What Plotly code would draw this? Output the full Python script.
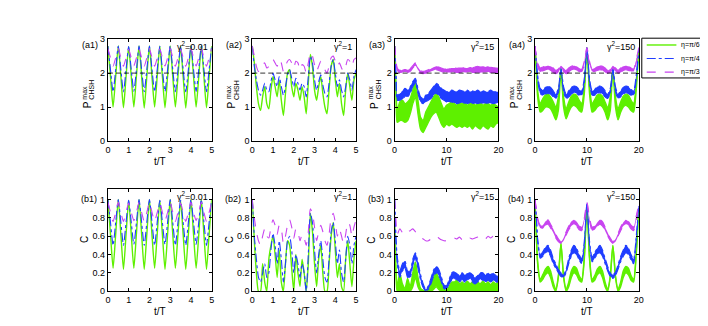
import plotly.graph_objects as go
from plotly.subplots import make_subplots

W, H = 708, 326
FONT = 'Liberation Sans, Arial, sans-serif'

GREEN = '#5ef000'
BLUE = '#1f3dff'
PURPLE = '#c844f0'

ETA_NAMES = ['η=π/6', 'η=π/4', 'η=π/3']
PANEL_TAGS = [['(a1)', '(a2)', '(a3)', '(a4)'], ['(b1)', '(b2)', '(b3)', '(b4)']]
GAMMA_TAGS = ['γ<sup>2</sup>=0.01', 'γ<sup>2</sup>=1', 'γ<sup>2</sup>=15', 'γ<sup>2</sup>=150']
CLASSICAL_BOUND = 2
TOP_Y_TICKS = [0, 1, 2, 3]
BOT_Y_TICKS = [0, 0.2, 0.4, 0.6, 0.8, 1]
BOT_Y_TEXT = ['0', '0.2', '0.4', '0.6', '0.8', '1']
X_TICKS_5 = [0, 1, 2, 3, 4, 5]
X_TICKS_20 = [0, 10, 20]

# sample times (t/T)
T5_FINE = [0, 0.125, 0.25, 0.375, 0.5, 0.625, 0.75, 0.875, 1, 1.125, 1.25, 1.375, 1.5, 1.625,
           1.75, 1.875, 2, 2.125, 2.25, 2.375, 2.5, 2.625, 2.75, 2.875, 3, 3.125, 3.25, 3.375,
           3.5, 3.625, 3.75, 3.875, 4, 4.125, 4.25, 4.375, 4.5, 4.625, 4.75, 4.875, 5]
T5 = [0, 0.1, 0.2, 0.3, 0.4, 0.5, 0.6, 0.7, 0.8, 0.9, 1.0, 1.1, 1.2, 1.3, 1.4, 1.5, 1.6, 1.7,
      1.8, 1.9, 2.0, 2.1, 2.2, 2.3, 2.4, 2.5, 2.6, 2.7, 2.8, 2.9, 3.0, 3.1, 3.2, 3.3, 3.4, 3.5,
      3.6, 3.7, 3.8, 3.9, 4.0, 4.1, 4.2, 4.3, 4.4, 4.5, 4.6, 4.7, 4.8, 4.9, 5.0]
T20 = [0, 0.25, 0.5, 1, 1.5, 2, 2.5, 3, 3.5, 4, 4.5, 5, 5.5, 6, 6.5, 7, 7.5, 8, 8.5, 9, 9.5,
       10, 10.5, 11, 11.5, 12, 12.5, 13, 13.5, 14, 14.5, 15, 15.5, 16, 16.5, 17, 17.5, 18,
       18.5, 19, 19.5, 20]

# ---- (a1) / (b1): gamma^2 = 0.01
A1_GREEN = [2.8, 1.9, 1.0, 1.9, 2.8, 1.9, 0.98, 1.9, 2.78, 1.9, 1.0, 1.92, 2.8, 1.9, 0.97, 1.9,
            2.8, 1.88, 1.0, 1.9, 2.79, 1.9, 0.98, 1.9, 2.8, 1.9, 1.0, 1.9, 2.78, 1.9, 0.97, 1.9,
            2.8, 1.9, 1.0, 1.88, 2.8, 1.9, 0.98, 1.9, 2.8]
A1_BLUE = [2.8, 2.1, 1.45, 2.1, 2.8, 2.1, 1.45, 2.1, 2.78, 2.1, 1.47, 2.1, 2.8, 2.1, 1.45, 2.1,
           2.8, 2.1, 1.45, 2.1, 2.79, 2.1, 1.46, 2.1, 2.8, 2.1, 1.45, 2.1, 2.78, 2.1, 1.45, 2.1,
           2.8, 2.1, 1.46, 2.1, 2.8, 2.1, 1.45, 2.1, 2.8]
A1_PURPLE = [2.72, 2.45, 2.2, 2.45, 2.72, 2.45, 2.2, 2.45, 2.7, 2.45, 2.22, 2.45, 2.72, 2.45,
             2.2, 2.45, 2.72, 2.45, 2.2, 2.45, 2.71, 2.45, 2.21, 2.45, 2.72, 2.45, 2.2, 2.45,
             2.7, 2.45, 2.2, 2.45, 2.72, 2.45, 2.21, 2.45, 2.72, 2.45, 2.2, 2.45, 2.72]
B1_GREEN = [1.0, 0.62, 0.25, 0.62, 1.0, 0.62, 0.24, 0.62, 0.99, 0.62, 0.25, 0.63, 1.0, 0.62,
            0.24, 0.62, 1.0, 0.61, 0.25, 0.62, 0.99, 0.62, 0.24, 0.62, 1.0, 0.62, 0.25, 0.62,
            0.99, 0.62, 0.24, 0.62, 1.0, 0.62, 0.25, 0.61, 1.0, 0.62, 0.24, 0.62, 1.0]
B1_BLUE = [1.0, 0.75, 0.5, 0.75, 1.0, 0.75, 0.5, 0.75, 0.99, 0.75, 0.51, 0.75, 1.0, 0.75, 0.5,
           0.75, 1.0, 0.75, 0.5, 0.75, 0.99, 0.75, 0.51, 0.75, 1.0, 0.75, 0.5, 0.75, 0.99,
           0.75, 0.5, 0.75, 1.0, 0.75, 0.51, 0.75, 1.0, 0.75, 0.5, 0.75, 1.0]
B1_PURPLE = [0.97, 0.86, 0.76, 0.86, 0.97, 0.86, 0.76, 0.86, 0.96, 0.86, 0.77, 0.86, 0.97,
             0.86, 0.76, 0.86, 0.97, 0.86, 0.76, 0.86, 0.96, 0.86, 0.77, 0.86, 0.97, 0.86,
             0.76, 0.86, 0.96, 0.86, 0.76, 0.86, 0.97, 0.86, 0.77, 0.86, 0.97, 0.86, 0.76,
             0.86, 0.97]

# ---- (a2) / (b2): gamma^2 = 1
A2_GREEN = [2.8, 2.3, 1.6, 1.1, 0.9, 1.3, 1.6, 1.1, 0.95, 1.5, 1.9, 1.6, 1.3, 1.8, 1.2, 0.75,
            1.4, 2.0, 2.1, 1.6, 1.3, 1.7, 1.5, 1.2, 1.6, 1.3, 0.8, 1.7, 2.55, 2.2, 1.5, 1.2,
            1.6, 1.9, 1.4, 1.0, 0.8, 1.5, 2.2, 2.4, 1.8, 1.3, 1.7, 1.1, 0.75, 1.5, 2.0, 1.6,
            1.2, 1.8, 2.0]
A2_BLUE = [2.8, 2.2, 1.8, 1.5, 1.35, 1.5, 1.7, 1.5, 1.45, 1.75, 2.0, 1.8, 1.6, 1.9, 1.6, 1.35,
           1.6, 1.95, 2.1, 1.85, 1.6, 1.85, 1.7, 1.5, 1.7, 1.6, 1.3, 1.9, 2.5, 2.3, 1.8, 1.5,
           1.75, 1.95, 1.65, 1.4, 1.3, 1.7, 2.2, 2.4, 2.0, 1.6, 1.8, 1.5, 1.3, 1.6, 2.0, 1.8,
           1.5, 1.9, 2.1]
A2_PURPLE = [2.8, 2.5, 2.2, 2.05, 2.1, 2.25, 2.3, 2.15, 2.2, 2.35, 2.4, 2.3, 2.2, 2.4, 2.3,
             2.05, 2.2, 2.35, 2.4, 2.3, 2.15, 2.35, 2.3, 2.1, 2.25, 2.2, 2.0, 2.3, 2.6, 2.5,
             2.25, 2.05, 2.2, 2.35, 2.25, 2.1, 2.0, 2.2, 2.45, 2.5, 2.35, 2.2, 2.3, 2.15, 2.05,
             2.2, 2.4, 2.35, 2.2, 2.4, 2.45]
B2_GREEN = [1.0, 0.55, 0.2, 0.0, 0.0, 0.3, 0.1, 0.0, 0.35, 0.5, 0.6, 0.4, 0.15, 0.45, 0.1, 0.0,
            0.3, 0.55, 0.5, 0.25, 0.0, 0.4, 0.2, 0.05, 0.35, 0.2, 0.0, 0.3, 0.85, 0.65, 0.3,
            0.05, 0.35, 0.5, 0.2, 0.0, 0.0, 0.3, 0.6, 0.75, 0.45, 0.15, 0.3, 0.05, 0.0, 0.35,
            0.55, 0.3, 0.05, 0.35, 0.55]
B2_BLUE = [1.0, 0.6, 0.35, 0.15, 0.1, 0.2, 0.3, 0.15, 0.2, 0.45, 0.63, 0.5, 0.3, 0.55, 0.35,
           0.1, 0.3, 0.55, 0.6, 0.45, 0.2, 0.4, 0.3, 0.15, 0.3, 0.2, 0.0, 0.4, 0.85, 0.75,
           0.45, 0.2, 0.4, 0.55, 0.35, 0.15, 0.1, 0.35, 0.65, 0.75, 0.55, 0.3, 0.45, 0.2, 0.1,
           0.35, 0.6, 0.5, 0.3, 0.5, 0.6]
B2_PURPLE = [1.0, 0.8, 0.65, 0.55, 0.5, 0.6, 0.68, 0.6, 0.58, 0.7, 0.78, 0.72, 0.62, 0.72,
             0.68, 0.52, 0.6, 0.72, 0.78, 0.7, 0.58, 0.68, 0.65, 0.55, 0.62, 0.58, 0.5, 0.65,
             0.9, 0.85, 0.7, 0.55, 0.65, 0.72, 0.65, 0.55, 0.5, 0.62, 0.8, 0.85, 0.75, 0.6,
             0.68, 0.6, 0.52, 0.62, 0.75, 0.72, 0.6, 0.7, 0.78]

# ---- (a3) / (b3): gamma^2 = 15, lower and upper edge of the fast-oscillating band
A3_GREEN_LO = [2.8, 1.4, 0.55, 0.6, 0.6, 0.55, 0.6, 0.8, 1.1, 1.3, 0.8, 0.35, 0.25, 0.4, 0.55,
               0.7, 0.8, 0.85, 0.7, 0.5, 0.4, 0.5, 0.45, 0.5, 0.45, 0.4, 0.45, 0.4, 0.45, 0.4,
               0.45, 0.35, 0.45, 0.4, 0.35, 0.45, 0.4, 0.35, 0.45, 0.4, 0.5, 0.55]
A3_GREEN_HI = [2.8, 1.6, 0.9, 1.15, 1.2, 1.1, 1.15, 1.25, 1.5, 1.75, 1.2, 0.7, 0.6, 0.85, 1.0,
               1.15, 1.3, 1.4, 1.3, 1.1, 0.95, 1.05, 1.1, 1.15, 1.1, 1.05, 1.15, 1.1, 1.15,
               1.05, 1.1, 1.15, 1.05, 1.1, 1.15, 1.05, 1.1, 1.1, 1.05, 1.1, 1.05, 1.0]
A3_BLUE_LO = [2.8, 1.9, 1.2, 1.2, 1.25, 1.3, 1.3, 1.4, 1.6, 1.7, 1.4, 1.15, 1.1, 1.15, 1.2,
              1.25, 1.35, 1.4, 1.35, 1.25, 1.2, 1.15, 1.15, 1.15, 1.12, 1.1, 1.12, 1.15, 1.1,
              1.1, 1.12, 1.1, 1.12, 1.1, 1.12, 1.1, 1.12, 1.1, 1.12, 1.1, 1.12, 1.15]
A3_BLUE_HI = [2.8, 2.0, 1.35, 1.4, 1.45, 1.55, 1.5, 1.6, 1.75, 1.85, 1.55, 1.3, 1.25, 1.35,
              1.4, 1.5, 1.6, 1.7, 1.65, 1.55, 1.5, 1.45, 1.45, 1.5, 1.48, 1.45, 1.5, 1.48,
              1.45, 1.5, 1.45, 1.48, 1.45, 1.5, 1.45, 1.48, 1.46, 1.45, 1.5, 1.45, 1.45, 1.45]
A3_PURPLE_LO = [2.8, 2.35, 2.1, 2.0, 2.02, 2.03, 2.02, 2.05, 2.15, 2.22, 2.1, 2.0, 1.98, 2.0,
                2.02, 2.05, 2.08, 2.1, 2.08, 2.05, 2.03, 2.02, 2.02, 2.02, 2.03, 2.02, 2.02,
                2.03, 2.02, 2.02, 2.03, 2.02, 2.02, 2.03, 2.02, 2.02, 2.02, 2.03, 2.02, 2.02,
                2.02, 2.03]
A3_PURPLE_HI = [2.8, 2.4, 2.15, 2.08, 2.1, 2.12, 2.1, 2.13, 2.22, 2.3, 2.17, 2.07, 2.05, 2.07,
                2.1, 2.13, 2.17, 2.2, 2.18, 2.15, 2.12, 2.12, 2.14, 2.15, 2.15, 2.14, 2.15,
                2.15, 2.16, 2.15, 2.18, 2.16, 2.18, 2.2, 2.18, 2.2, 2.18, 2.2, 2.17, 2.16, 2.15,
                2.14]
B3_GREEN_LO = [0.7, 0.2, 0, 0, 0, 0, 0, 0, 0.05, 0.15, 0.05, 0, 0, 0, 0, 0, 0.02, 0.05, 0.02,
               0, 0, 0, 0, 0, 0, 0, 0, 0, 0, 0, 0, 0, 0, 0, 0, 0, 0, 0, 0, 0, 0, 0]
B3_GREEN_HI = [0.7, 0.25, 0.05, 0.2, 0.08, 0.03, 0.14, 0.05, 0.2, 0.32, 0.15, 0.03, 0.01, 0.0,
               0.02, 0.08, 0.15, 0.2, 0.14, 0.08, 0.02, 0.01, 0.05, 0.1, 0.1, 0.12, 0.08, 0.1,
               0.08, 0.11, 0.08, 0.1, 0.07, 0.1, 0.08, 0.11, 0.08, 0.1, 0.07, 0.1, 0.08, 0.1]
B3_BLUE_LO = [1.0, 0.55, 0.3, 0.15, 0.22, 0.25, 0.15, 0.15, 0.28, 0.35, 0.25, 0.12, 0.04, 0.0,
              0.02, 0.08, 0.16, 0.2, 0.17, 0.1, 0.03, 0.02, 0.08, 0.12, 0.14, 0.12, 0.1, 0.13,
              0.1, 0.12, 0.14, 0.1, 0.08, 0.1, 0.13, 0.12, 0.1, 0.12, 0.1, 0.12, 0.1, 0.1]
B3_BLUE_HI = [1.0, 0.6, 0.38, 0.22, 0.3, 0.33, 0.22, 0.22, 0.35, 0.42, 0.32, 0.18, 0.08, 0.02,
              0.06, 0.14, 0.23, 0.27, 0.24, 0.16, 0.07, 0.06, 0.13, 0.2, 0.21, 0.19, 0.17, 0.2,
              0.18, 0.19, 0.2, 0.18, 0.15, 0.17, 0.2, 0.2, 0.17, 0.2, 0.18, 0.2, 0.17, 0.16]
B3_PURPLE = [1.0, 0.78, 0.62, 0.68, 0.64, 0.62, 0.65, 0.66, 0.68, 0.65, 0.62, 0.59, 0.57, 0.55,
             0.55, 0.57, 0.59, 0.6, 0.58, 0.56, 0.55, 0.55, 0.56, 0.57, 0.58, 0.57, 0.59, 0.56,
             0.55, 0.57, 0.58, 0.57, 0.58, 0.59, 0.6, 0.58, 0.57, 0.6, 0.58, 0.6, 0.56, 0.55]

# ---- (a4) / (b4): gamma^2 = 150
A4_GREEN_LO = [2.8, 2.0, 1.3, 0.85, 0.9, 1.0, 1.0, 0.95, 0.8, 0.62, 0.9, 2.1, 1.0, 0.65, 0.85,
               1.0, 1.05, 1.0, 0.9, 0.85, 1.4, 2.75, 1.4, 0.85, 0.9, 1.0, 1.05, 1.0, 0.85, 0.62,
               0.9, 2.1, 1.0, 0.62, 0.85, 1.0, 1.05, 1.0, 0.9, 0.85, 1.5, 2.7]
A4_GREEN_HI = [2.8, 2.2, 1.5, 1.1, 1.25, 1.35, 1.38, 1.3, 1.15, 1.0, 1.3, 2.15, 1.3, 0.95, 1.15,
               1.32, 1.38, 1.35, 1.2, 1.1, 1.6, 2.75, 1.6, 1.1, 1.22, 1.35, 1.38, 1.32, 1.15,
               0.98, 1.3, 2.15, 1.3, 0.95, 1.15, 1.32, 1.38, 1.35, 1.2, 1.1, 1.7, 2.7]
A4_BLUE_LO = [2.8, 2.3, 1.8, 1.4, 1.35, 1.38, 1.4, 1.38, 1.3, 1.25, 1.4, 2.1, 1.45, 1.25, 1.3,
              1.38, 1.42, 1.4, 1.35, 1.35, 1.7, 2.75, 1.7, 1.35, 1.35, 1.4, 1.42, 1.38, 1.3,
              1.25, 1.4, 2.1, 1.45, 1.25, 1.3, 1.38, 1.42, 1.4, 1.35, 1.35, 1.8, 2.7]
A4_BLUE_HI = [2.8, 2.4, 1.95, 1.55, 1.5, 1.58, 1.62, 1.58, 1.48, 1.38, 1.55, 2.15, 1.6, 1.38,
              1.48, 1.58, 1.62, 1.6, 1.52, 1.48, 1.85, 2.75, 1.85, 1.48, 1.52, 1.6, 1.62, 1.58,
              1.48, 1.38, 1.55, 2.15, 1.6, 1.38, 1.48, 1.58, 1.62, 1.6, 1.52, 1.48, 1.95, 2.7]
A4_PURPLE_LO = [2.8, 2.45, 2.2, 2.05, 2.05, 2.08, 2.1, 2.08, 2.02, 1.98, 2.02, 2.15, 2.05,
                1.98, 2.02, 2.08, 2.1, 2.08, 2.05, 2.05, 2.25, 2.75, 2.25, 2.05, 2.05, 2.08,
                2.1, 2.08, 2.02, 1.98, 2.02, 2.15, 2.05, 1.98, 2.02, 2.08, 2.1, 2.08, 2.05,
                2.05, 2.3, 2.75]
A4_PURPLE_HI = [2.8, 2.5, 2.3, 2.15, 2.18, 2.2, 2.22, 2.2, 2.15, 2.08, 2.12, 2.22, 2.15, 2.08,
                2.15, 2.2, 2.22, 2.2, 2.15, 2.12, 2.35, 2.75, 2.35, 2.12, 2.15, 2.2, 2.22, 2.2,
                2.15, 2.08, 2.12, 2.22, 2.15, 2.08, 2.15, 2.2, 2.22, 2.2, 2.15, 2.12, 2.4, 2.75]
B4_GREEN_LO = [0.95, 0.6, 0.3, 0.1, 0.13, 0.18, 0.2, 0.15, 0.05, 0.0, 0.15, 0.52, 0.15, 0.0,
               0.05, 0.15, 0.2, 0.18, 0.12, 0.1, 0.35, 0.92, 0.35, 0.1, 0.12, 0.18, 0.2, 0.15,
               0.05, 0.0, 0.15, 0.5, 0.15, 0.0, 0.05, 0.15, 0.2, 0.18, 0.12, 0.1, 0.4, 0.9]
B4_GREEN_HI = [0.95, 0.62, 0.33, 0.13, 0.18, 0.24, 0.27, 0.22, 0.1, 0.02, 0.17, 0.52, 0.17,
               0.02, 0.1, 0.22, 0.27, 0.25, 0.17, 0.13, 0.38, 0.92, 0.38, 0.13, 0.17, 0.24,
               0.27, 0.22, 0.1, 0.02, 0.17, 0.5, 0.17, 0.02, 0.1, 0.22, 0.27, 0.25, 0.17, 0.13,
               0.43, 0.9]
B4_BLUE_LO = [1.0, 0.8, 0.55, 0.36, 0.38, 0.42, 0.43, 0.38, 0.3, 0.25, 0.2, 0.16, 0.15, 0.2,
              0.3, 0.38, 0.42, 0.4, 0.34, 0.3, 0.5, 0.95, 0.5, 0.32, 0.36, 0.4, 0.42, 0.38,
              0.3, 0.22, 0.16, 0.14, 0.17, 0.24, 0.32, 0.38, 0.42, 0.4, 0.34, 0.3, 0.55, 0.93]
B4_BLUE_HI = [1.0, 0.82, 0.58, 0.4, 0.43, 0.48, 0.5, 0.45, 0.36, 0.3, 0.24, 0.2, 0.18, 0.24,
              0.36, 0.45, 0.5, 0.47, 0.4, 0.35, 0.55, 0.95, 0.55, 0.37, 0.42, 0.47, 0.5, 0.45,
              0.36, 0.27, 0.2, 0.18, 0.21, 0.29, 0.38, 0.45, 0.5, 0.47, 0.4, 0.35, 0.6, 0.93]
B4_PURPLE_LO = [1.0, 0.88, 0.78, 0.69, 0.68, 0.72, 0.73, 0.69, 0.64, 0.58, 0.54, 0.52, 0.55,
                0.61, 0.67, 0.71, 0.73, 0.71, 0.67, 0.66, 0.76, 0.97, 0.77, 0.66, 0.67, 0.71,
                0.73, 0.71, 0.66, 0.6, 0.55, 0.52, 0.54, 0.6, 0.66, 0.71, 0.73, 0.72, 0.68,
                0.66, 0.78, 0.95]
B4_PURPLE_HI = [1.0, 0.9, 0.8, 0.72, 0.72, 0.76, 0.78, 0.73, 0.68, 0.62, 0.57, 0.54, 0.58,
                0.65, 0.71, 0.76, 0.78, 0.75, 0.71, 0.7, 0.8, 0.97, 0.8, 0.7, 0.71, 0.75, 0.78,
                0.76, 0.7, 0.64, 0.58, 0.54, 0.57, 0.63, 0.7, 0.75, 0.78, 0.76, 0.72, 0.7, 0.82,
                0.95]

STYLES = [(GREEN, 'solid', 1.4), (BLUE, 'dashdot', 1.1), (PURPLE, 'dash', 1.1)]

# row, col, times, [green, blue, purple]; a tuple means (lower, upper) band
PANELS = [
    (1, 1, T5_FINE, [A1_GREEN, A1_BLUE, A1_PURPLE]),
    (1, 2, T5, [A2_GREEN, A2_BLUE, A2_PURPLE]),
    (1, 3, T20, [(A3_GREEN_LO, A3_GREEN_HI), (A3_BLUE_LO, A3_BLUE_HI), (A3_PURPLE_LO, A3_PURPLE_HI)]),
    (1, 4, T20, [(A4_GREEN_LO, A4_GREEN_HI), (A4_BLUE_LO, A4_BLUE_HI), (A4_PURPLE_LO, A4_PURPLE_HI)]),
    (2, 1, T5_FINE, [B1_GREEN, B1_BLUE, B1_PURPLE]),
    (2, 2, T5, [B2_GREEN, B2_BLUE, B2_PURPLE]),
    (2, 3, T20, [(B3_GREEN_LO, B3_GREEN_HI), (B3_BLUE_LO, B3_BLUE_HI), B3_PURPLE]),
    (2, 4, T20, [(B4_GREEN_LO, B4_GREEN_HI), (B4_BLUE_LO, B4_BLUE_HI), (B4_PURPLE_LO, B4_PURPLE_HI)]),
]

# frame positions in pixels
FRAME_LEFT = [98, 244, 388, 530]
FRAME_TOP = [27, 182]
FW, FH = 105, 105

fig = make_subplots(rows=2, cols=4)


def line_style(color, dash, width):
    return dict(color=color, dash=dash, width=width, shape='spline', smoothing=0.6)


for r, c, t, curves in PANELS:
    for k, curve in enumerate(curves):
        color, dash, width = STYLES[k]
        if isinstance(curve, tuple):
            lo, hi = curve
            fig.add_trace(go.Scatter(x=t, y=lo, mode='lines', line=line_style(color, dash, width),
                                     showlegend=False, hoverinfo='skip'), row=r, col=c)
            fig.add_trace(go.Scatter(x=t, y=hi, mode='lines', line=line_style(color, dash, width),
                                     fill='tonexty', fillcolor=color,
                                     showlegend=False, hoverinfo='skip'), row=r, col=c)
        else:
            fig.add_trace(go.Scatter(x=t, y=curve, mode='lines', line=line_style(color, dash, width),
                                     name=ETA_NAMES[k], showlegend=False),
                          row=r, col=c)

for c in range(1, 5):
    fig.add_hline(y=CLASSICAL_BOUND, row=1, col=c,
                  line=dict(color='black', width=0.8, dash='5px,3px'))

axis_common = dict(showline=True, linecolor='black', linewidth=1, mirror='ticks',
                   ticks='inside', ticklen=3, tickcolor='black', showgrid=False,
                   zeroline=False, tickfont=dict(family=FONT, size=9, color='black'))

annotations = []


def ann(x, y, text, size=9, xanchor='center', yanchor='middle', angle=0):
    annotations.append(dict(x=x / W, y=1 - y / H, xref='paper', yref='paper', text=text,
                            showarrow=False, xanchor=xanchor, yanchor=yanchor, textangle=angle,
                            font=dict(family=FONT, size=size, color='black')))


for r in (1, 2):
    for c in range(1, 5):
        left, top = FRAME_LEFT[c - 1], FRAME_TOP[r - 1]
        xmax = 5 if c <= 2 else 20
        fig.update_xaxes(domain=[left / W, (left + FW) / W], range=[0, xmax],
                         tickvals=X_TICKS_5 if c <= 2 else X_TICKS_20, row=r, col=c, **axis_common)
        if r == 1:
            fig.update_yaxes(domain=[1 - (top + FH) / H, 1 - top / H], range=[0, 3],
                             tickvals=TOP_Y_TICKS, row=r, col=c, **axis_common)
        else:
            fig.update_yaxes(domain=[1 - (top + FH) / H, 1 - top / H], range=[0, 1.11],
                             tickvals=BOT_Y_TICKS, ticktext=BOT_Y_TEXT, row=r, col=c, **axis_common)
        ann(left + FW / 2, top + FH + 21, 't/T', size=10)
        ann(left - 8 if r == 1 else left - 9, top + 6 if r == 1 else top + 10,
            PANEL_TAGS[r - 1][c - 1], size=9, xanchor='right')
        ann(left + FW - 2, top + 7, GAMMA_TAGS[c - 1], size=9, xanchor='right')
        if r == 1:
            ann(left - 21, top + 68, 'P', size=10, angle=-90)
            ann(left - 24, top + 55, 'max', size=7, angle=-90)
            ann(left - 16, top + 52, 'CHSH', size=7, angle=-90)
        else:
            ann(left - 23, top + 52, 'C', size=10, angle=-90)

# hand-drawn legend box (compact, like the original)
LEG_L, LEG_T, LEG_R, LEG_B = 638, 26, 707, 67
shapes = [dict(type='rect', xref='paper', yref='paper', x0=LEG_L / W, x1=LEG_R / W,
               y0=1 - LEG_B / H, y1=1 - LEG_T / H, line=dict(color='black', width=1),
               fillcolor='white', layer='above')]
for k, name in enumerate(ETA_NAMES):
    color, dash, width = STYLES[k]
    yk = LEG_T + 7 + 14 * k
    shapes.append(dict(type='line', xref='paper', yref='paper', x0=643 / W, x1=673 / W,
                       y0=1 - yk / H, y1=1 - yk / H, line=dict(color=color, dash=dash, width=width),
                       layer='above'))
    ann(676, yk, name, size=7, xanchor='left')

fig.update_layout(
    width=W, height=H, autosize=False,
    margin=dict(l=0, r=0, t=0, b=0),
    paper_bgcolor='white', plot_bgcolor='white',
    font=dict(family=FONT, size=9, color='black'),
    annotations=annotations,
    showlegend=False,
)
for s in shapes:
    fig.add_shape(**s)

fig.write_html("out.html")
